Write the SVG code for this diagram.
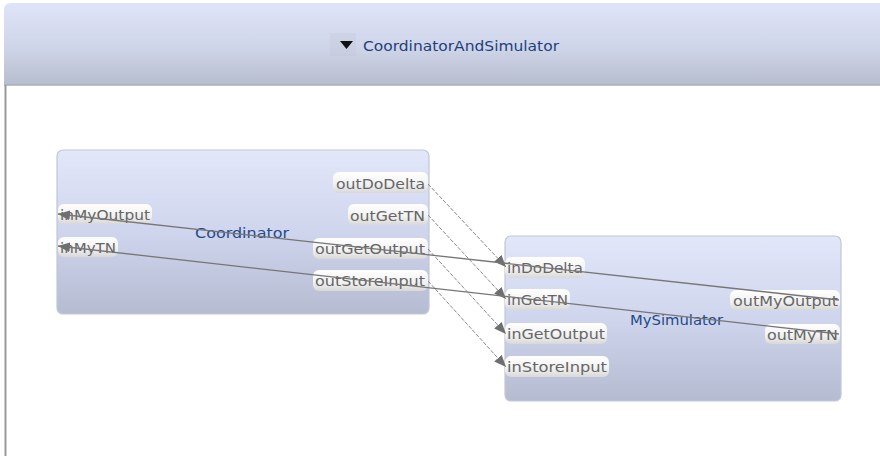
<svg xmlns="http://www.w3.org/2000/svg" width="880" height="456" viewBox="0 0 880 456">
  <defs>
    <linearGradient id="hdrGrad" x1="0" y1="0" x2="0" y2="1">
      <stop offset="0" stop-color="#dfe4f8"/>
      <stop offset="0.55" stop-color="#cfd5e8"/>
      <stop offset="1" stop-color="#b6bdcd"/>
    </linearGradient>
    <linearGradient id="nodeGrad" x1="0" y1="0" x2="0" y2="1">
      <stop offset="0" stop-color="#e2e7fa"/>
      <stop offset="0.5" stop-color="#cfd5ec"/>
      <stop offset="1" stop-color="#b5bcd2"/>
    </linearGradient>
    <linearGradient id="portGrad" x1="0" y1="0" x2="0" y2="1">
      <stop offset="0" stop-color="#ffffff"/>
      <stop offset="0.6" stop-color="#f1f1f1"/>
      <stop offset="1" stop-color="#d8d8d8"/>
    </linearGradient>
    <marker id="arrow" viewBox="0 0 12 10" refX="12" refY="5" markerWidth="12" markerHeight="10" markerUnits="userSpaceOnUse" orient="auto">
      <path d="M0,0 L12,5 L0,10 Z" fill="#6f6f6f"/>
    </marker>
    <style>
      .node { fill: url(#nodeGrad); stroke: #c2c7d6; stroke-width: 1.2; }
      .port { fill: url(#portGrad); stroke: none; }
      .ptxt { font-family: "DejaVu Sans", "Liberation Sans", sans-serif; font-size: 14px; fill: #666666; }
      .ntxt { font-family: "DejaVu Sans", "Liberation Sans", sans-serif; font-size: 14px; fill: #234a8a; }
      .htxt { font-family: "DejaVu Sans Condensed", "DejaVu Sans", sans-serif; font-size: 14.5px; fill: #1f3f7c; }
      .flow { fill: none; stroke: #8a8a8a; stroke-width: 1; stroke-dasharray: 4 1.5; }
      .feed { fill: none; stroke: #767676; stroke-width: 1.3; }
    </style>
  </defs>

  <rect x="0" y="0" width="880" height="456" fill="#ffffff"/>

  <!-- compartment header -->
  <g id="header">
    <path d="M4,85 L4,10 Q4,3 11,3 L880,3 L880,85 Z" fill="url(#hdrGrad)"/>
    <line x1="4" y1="85" x2="880" y2="85" stroke="#a9afbd" stroke-width="1.5"/>
    <line x1="5.5" y1="85" x2="5.5" y2="456" stroke="#9a9a9a" stroke-width="2"/>
    <rect x="330" y="33" width="26" height="23" fill="#b9bfce" opacity="0.22"/>
    <path d="M340,41 L353,41 L346.5,49 Z" fill="#111111"/>
    <text class="htxt" x="363" y="51" textLength="196" lengthAdjust="spacingAndGlyphs">CoordinatorAndSimulator</text>
  </g>

  <!-- Coordinator node -->
  <g id="coordinator">
    <rect class="node" x="57" y="150" width="372" height="164" rx="6" ry="6"/>
    <text class="ntxt" x="195" y="238" textLength="94" lengthAdjust="spacingAndGlyphs">Coordinator</text>
    <rect class="port" x="58" y="204" width="94" height="20" rx="6"/>
    <text class="ptxt" x="60" y="220" textLength="90" lengthAdjust="spacingAndGlyphs">inMyOutput</text>
    <rect class="port" x="58" y="237" width="60" height="20" rx="6"/>
    <text class="ptxt" x="60" y="253" textLength="56" lengthAdjust="spacingAndGlyphs">inMyTN</text>
    <rect class="port" x="333" y="172" width="95" height="21" rx="6"/>
    <text class="ptxt" x="336" y="189" textLength="89" lengthAdjust="spacingAndGlyphs">outDoDelta</text>
    <rect class="port" x="348" y="204" width="80" height="21" rx="6"/>
    <text class="ptxt" x="350" y="221" textLength="75" lengthAdjust="spacingAndGlyphs">outGetTN</text>
    <rect class="port" x="313" y="238" width="115" height="21" rx="6"/>
    <text class="ptxt" x="315" y="254" textLength="110" lengthAdjust="spacingAndGlyphs">outGetOutput</text>
    <rect class="port" x="313" y="270" width="115" height="21" rx="6"/>
    <text class="ptxt" x="315" y="286" textLength="110" lengthAdjust="spacingAndGlyphs">outStoreInput</text>
  </g>

  <!-- MySimulator node -->
  <g id="mysimulator">
    <rect class="node" x="505" y="236" width="336" height="165" rx="6" ry="6"/>
    <text class="ntxt" x="630" y="325" textLength="93" lengthAdjust="spacingAndGlyphs">MySimulator</text>
    <rect class="port" x="505" y="257" width="80" height="21" rx="6"/>
    <text class="ptxt" x="507" y="273" textLength="76" lengthAdjust="spacingAndGlyphs">inDoDelta</text>
    <rect class="port" x="505" y="289" width="65" height="21" rx="6"/>
    <text class="ptxt" x="507" y="305" textLength="61" lengthAdjust="spacingAndGlyphs">inGetTN</text>
    <rect class="port" x="505" y="323" width="102" height="21" rx="6"/>
    <text class="ptxt" x="507" y="339" textLength="98" lengthAdjust="spacingAndGlyphs">inGetOutput</text>
    <rect class="port" x="505" y="356" width="104" height="21" rx="6"/>
    <text class="ptxt" x="507" y="372" textLength="100" lengthAdjust="spacingAndGlyphs">inStoreInput</text>
    <rect class="port" x="730" y="290" width="110" height="20" rx="6"/>
    <text class="ptxt" x="733" y="306" textLength="105" lengthAdjust="spacingAndGlyphs">outMyOutput</text>
    <rect class="port" x="765" y="324" width="75" height="20" rx="6"/>
    <text class="ptxt" x="767" y="340" textLength="71" lengthAdjust="spacingAndGlyphs">outMyTN</text>
  </g>

  <!-- connectors -->
  <g id="connectors">
    <line class="flow" x1="428" y1="184" x2="506" y2="267" marker-end="url(#arrow)"/>
    <line class="flow" x1="428" y1="215" x2="506" y2="299" marker-end="url(#arrow)"/>
    <line class="flow" x1="428" y1="249" x2="506" y2="334" marker-end="url(#arrow)"/>
    <line class="flow" x1="428" y1="281" x2="506" y2="367" marker-end="url(#arrow)"/>
    <line class="feed" x1="839" y1="300" x2="58" y2="214" marker-end="url(#arrow)"/>
    <line class="feed" x1="839" y1="334" x2="58" y2="246" marker-end="url(#arrow)"/>
  </g>
</svg>
